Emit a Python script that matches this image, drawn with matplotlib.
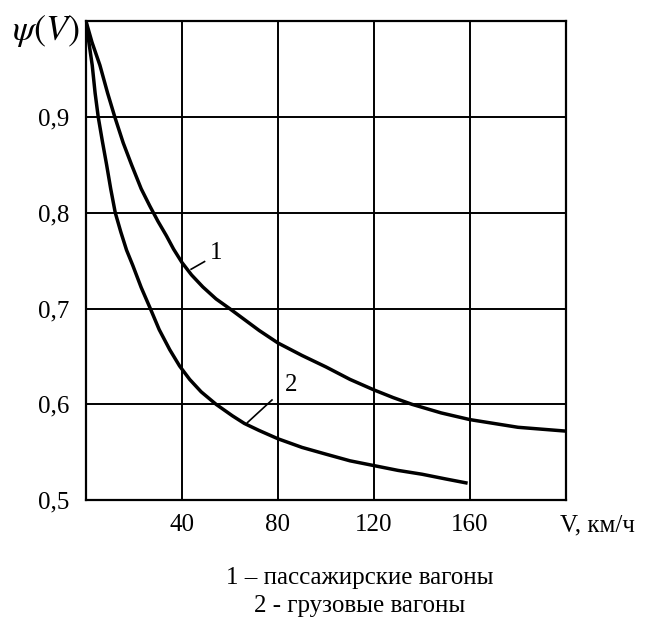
import numpy as np
import matplotlib
matplotlib.use("Agg")
import matplotlib.pyplot as plt

# данные
# 1 - пассажирские вагоны
v_pass = [0, 2.5, 5.8, 9, 12, 15.5, 19, 23, 26.6, 30, 33.5, 36.5, 40, 44, 48.7, 54.2,
          59.8, 66, 72.2, 80, 90, 100, 110, 120, 128, 135.8, 148, 160, 170, 180,
          190, 200]
psi_pass = [1.0, 0.978, 0.954, 0.925, 0.9, 0.873, 0.85, 0.825, 0.807, 0.791, 0.776,
            0.762, 0.748, 0.735, 0.7225, 0.71, 0.7, 0.6885, 0.677, 0.664, 0.651,
            0.639, 0.626, 0.615, 0.607, 0.6, 0.591, 0.584, 0.58, 0.576, 0.574, 0.572]

# 2 - грузовые вагоны
v_frt = [0, 1.2, 2.6, 3.8, 5.1, 6.8, 8.6, 10.3, 12.2, 14.5, 16.9, 19.5, 23, 26.8,
         30.5, 34.9, 39, 43.2, 48, 54.2, 61, 66, 72.2, 80, 90, 99.9, 110, 120,
         130, 140, 150, 158.3]
psi_frt = [1.0, 0.978, 0.954, 0.925, 0.9, 0.875, 0.85, 0.825, 0.8, 0.78, 0.761,
           0.745, 0.722, 0.7, 0.678, 0.657, 0.64, 0.626, 0.613, 0.6, 0.588, 0.58,
           0.5726, 0.564, 0.555, 0.548, 0.541, 0.536, 0.531, 0.527, 0.522, 0.518]

x_ticks = [40, 80, 120, 160]
y_ticks = [0.5, 0.6, 0.7, 0.8, 0.9]
y_labels = ["0,5", "0,6", "0,7", "0,8", "0,9"]

plt.rcParams["font.family"] = ["Liberation Serif", "DejaVu Serif"]
plt.rcParams["mathtext.fontset"] = "stix"

fig = plt.figure(figsize=(6.45, 6.22), dpi=100)
ax = fig.add_axes([0.1333, 0.196, 0.7442, 0.770])

ax.plot(v_pass, psi_pass, color="black", lw=2.5, solid_joinstyle="round")
ax.plot(v_frt, psi_frt, color="black", lw=2.5, solid_joinstyle="round")

ax.set_xlim(0, 200)
ax.set_ylim(0.5, 1.0)
ax.set_xticks(x_ticks)
ax.set_yticks(y_ticks)
ax.set_yticklabels(y_labels)
ax.tick_params(axis="x", length=0, labelsize=18, pad=10)
ax.tick_params(axis="y", length=0, labelsize=18, pad=12)
ax.grid(True, color="black", lw=1.4)
for s in ax.spines.values():
    s.set_linewidth(1.6)

# выноски
ax.plot([43.8, 49.4], [0.741, 0.749], color="black", lw=1.2)
ax.text(54.2, 0.758, "1", fontsize=18, ha="center", va="center")
ax.plot([67.3, 77.5], [0.581, 0.6045], color="black", lw=1.2)
ax.text(85.6, 0.620, "2", fontsize=18, ha="center", va="center")

ax.text(-2.5, 0.99, r"$\psi(V)$", fontsize=26, ha="right", va="center")
ax.annotate("V, км/ч", xy=(197.5, 0.5), xytext=(0, -10), textcoords="offset points",
            fontsize=18, ha="left", va="top")

fig.text(0.558, 0.071, "1 – пассажирские вагоны", fontsize=18, ha="center", va="center")
fig.text(0.558, 0.026, "2 - грузовые вагоны", fontsize=18, ha="center", va="center")

fig.savefig("out.png", dpi=100)
